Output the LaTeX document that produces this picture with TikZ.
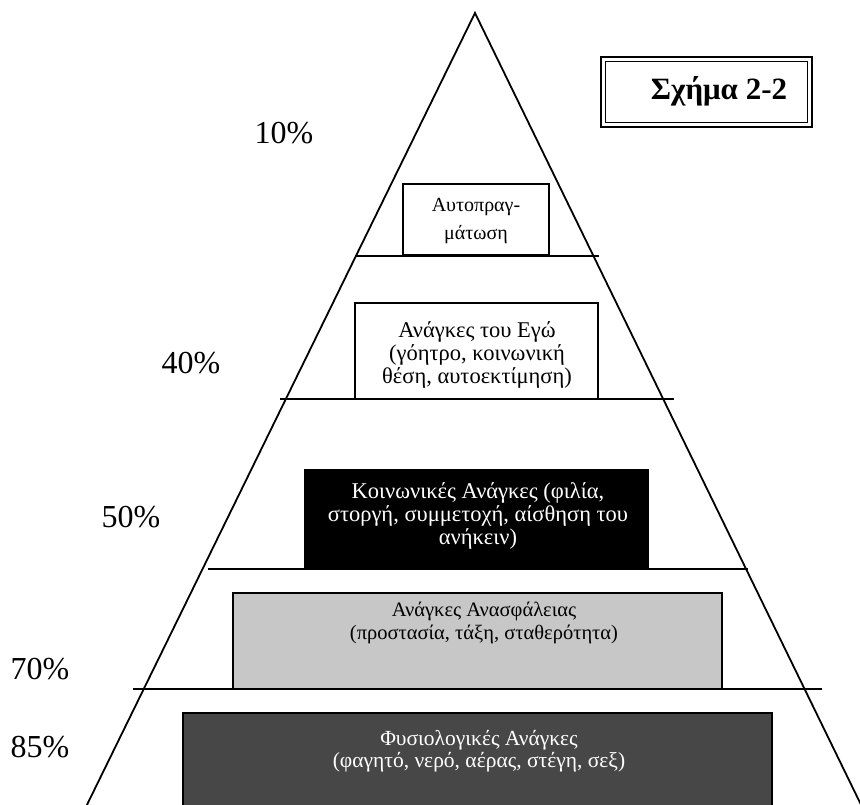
\documentclass[tikz,border=0pt]{standalone}
\usepackage{fontspec}
\setmainfont{Liberation Serif}
\begin{document}
\begin{tikzpicture}[x=1pt,y=-1pt,
  edge/.style={line width=1.8pt, line cap=round},
  divider/.style={line width=1.6pt},
  lvlbox/.style={draw=black, line width=1.3pt, inner sep=0pt},
  boxtxt/.style={align=center, inner sep=0pt},
  pct/.style={font=\fontsize{32}{32}\selectfont, inner sep=0pt}]
\useasboundingbox (0,0) rectangle (860,805);
\fill[white] (0,0) rectangle (860,805);

% level boxes
\node[lvlbox, fill=white, minimum width=146pt, minimum height=71pt] (b1) at (476,219.5) {};
\node[lvlbox, fill=white, minimum width=243pt, minimum height=96pt] (b2) at (476.5,351) {};
\node[lvlbox, fill=black, minimum width=343pt, minimum height=99pt] (b3) at (476.5,519.5) {};
\node[lvlbox, fill=black!22, minimum width=489pt, minimum height=96pt] (b4) at (477.5,641) {};
\node[lvlbox, fill=black!72, minimum width=589pt, minimum height=100pt] (b5) at (477.5,763) {};

% box texts
\node[boxtxt, font=\fontsize{20}{28}\selectfont] (t1) at (476,221) {Αυτοπραγ-\\μάτωση};
\node[boxtxt, font=\fontsize{22.5}{23}\selectfont] (t2) at (477,355) {Ανάγκες του Εγώ\\(γόητρο, κοινωνική\\θέση, αυτοεκτίμηση)};
\node[boxtxt, font=\fontsize{22.5}{23}\selectfont, text=white] (t3) at (478,516) {Κοινωνικές Ανάγκες (φιλία,\\στοργή, συμμετοχή, αίσθηση του\\ανήκειν)};
\node[boxtxt, font=\fontsize{20.5}{22.5}\selectfont] (t4) at (484,623) {Ανάγκες Ανασφάλειας\\(προστασία, τάξη, σταθερότητα)};
\node[boxtxt, font=\fontsize{21.5}{22.5}\selectfont, text=white] (t5) at (479,751) {Φυσιολογικές Ανάγκες\\(φαγητό, νερό, αέρας, στέγη, σεξ)};

% dividers
\coordinate (d1l) at (355,256); \coordinate (d1r) at (599,256);
\coordinate (d2l) at (280,399); \coordinate (d2r) at (674,399);
\coordinate (d3l) at (208,569); \coordinate (d3r) at (748,569);
\coordinate (d4l) at (133,689); \coordinate (d4r) at (822,689);
\draw[divider] (d1l) -- (d1r);
\draw[divider] (d2l) -- (d2r);
\draw[divider] (d3l) -- (d3r);
\draw[divider] (d4l) -- (d4r);

% pyramid edges
\coordinate (apex) at (475,13);
\coordinate (bl) at (82,815);
\coordinate (br) at (866,815);
\draw[edge] (bl) -- (apex) -- (br);

% percentages
\node[pct] (p10) at (284,133) {10\%};
\node[pct] (p40) at (191,363) {40\%};
\node[pct] (p50) at (131,517) {50\%};
\node[pct] (p70) at (40,669) {70\%};
\node[pct] (p85) at (40,747) {85\%};

% title box
\node[draw, line width=2.5pt, minimum width=211pt, minimum height=70pt] (tbo) at (706.5,92) {};
\node[draw, line width=1pt, minimum width=202pt, minimum height=61pt] (tbi) at (706.5,92) {};
\node[font=\fontsize{31}{31}\selectfont\bfseries, inner sep=0pt] (title) at (719,91) {Σχήμα 2-2};
\end{tikzpicture}
\end{document}
